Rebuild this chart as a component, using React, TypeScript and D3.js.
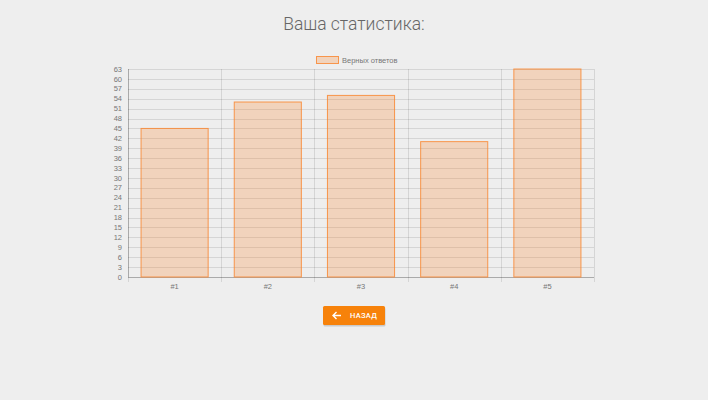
import React, { useRef, useEffect } from 'react'
import * as d3 from 'd3'

const categories = ['#1', '#2', '#3', '#4', '#5']
const correctAnswers = [45, 53, 55, 41, 63]
const yMax = 63
const yStep = 3
const legendLabel = 'Верных ответов'
const title = 'Ваша статистика:'
const buttonLabel = 'НАЗАД'

const App: React.FC = () => {
  const svgRef = useRef<SVGSVGElement>(null)

  useEffect(() => {
    if (!svgRef.current) return
    const width = 708
    const height = 400
    const margin = { top: 69, right: 114, bottom: 123, left: 128 }
    const innerWidth = width - margin.left - margin.right
    const innerHeight = height - margin.top - margin.bottom

    const svg = d3.select(svgRef.current)
    svg.selectAll('*').remove()
    svg.attr('width', width).attr('height', height)

    svg.append('rect').attr('width', width).attr('height', height).attr('fill', '#eeeeee')

    // Title
    svg
      .append('text')
      .attr('x', width / 2)
      .attr('y', 30)
      .attr('text-anchor', 'middle')
      .style('font-family', 'Roboto, sans-serif')
      .style('font-weight', '300')
      .style('font-size', '17.5px')
      .style('fill', '#666')
      .text(title)

    const g = svg.append('g').attr('transform', `translate(${margin.left}, ${margin.top})`)

    const xScale = d3.scaleBand().domain(categories).range([0, innerWidth])
    const yScale = d3.scaleLinear().domain([0, yMax]).range([innerHeight, 0])
    const yTicks = d3.range(0, yMax + 1, yStep)

    const gridColor = 'rgba(0,0,0,0.1)'
    const font = '"Liberation Sans", Arial, sans-serif'

    // Horizontal grid
    g.selectAll('.hgrid')
      .data(yTicks)
      .enter()
      .append('line')
      .attr('x1', 0)
      .attr('x2', innerWidth)
      .attr('y1', d => Math.round(yScale(d)) + 0.5)
      .attr('y2', d => Math.round(yScale(d)) + 0.5)
      .attr('stroke', gridColor)

    // Vertical grid (category boundaries)
    const bounds = categories.map(c => xScale(c) || 0).concat([innerWidth])
    g.selectAll('.vgrid')
      .data(bounds)
      .enter()
      .append('line')
      .attr('x1', d => Math.round(d) + 0.5)
      .attr('x2', d => Math.round(d) + 0.5)
      .attr('y1', 0)
      .attr('y2', innerHeight + 5)
      .attr('stroke', gridColor)

    // Axis lines
    g.append('line')
      .attr('x1', 0.5)
      .attr('x2', 0.5)
      .attr('y1', 0)
      .attr('y2', innerHeight)
      .attr('stroke', 'rgba(0,0,0,0.2)')
    g.append('line')
      .attr('x1', 0)
      .attr('x2', innerWidth)
      .attr('y1', innerHeight + 0.5)
      .attr('y2', innerHeight + 0.5)
      .attr('stroke', 'rgba(0,0,0,0.2)')

    // Y tick labels
    g.selectAll('.ylabel')
      .data(yTicks)
      .enter()
      .append('text')
      .attr('x', -6)
      .attr('y', d => yScale(d))
      .attr('dy', '0.35em')
      .attr('text-anchor', 'end')
      .style('font-family', font)
      .style('font-size', '7.5px')
      .style('fill', '#777')
      .text(d => String(d))

    // X tick labels
    g.selectAll('.xlabel')
      .data(categories)
      .enter()
      .append('text')
      .attr('x', d => (xScale(d) || 0) + xScale.bandwidth() / 2)
      .attr('y', innerHeight + 12)
      .attr('text-anchor', 'middle')
      .style('font-family', font)
      .style('font-size', '7.5px')
      .style('fill', '#777')
      .text(d => d)

    // Bars
    const barWidth = xScale.bandwidth() * 0.72
    g.selectAll('.bar')
      .data(correctAnswers)
      .enter()
      .append('rect')
      .attr('x', (_d, i) => (xScale(categories[i]) || 0) + (xScale.bandwidth() - barWidth) / 2)
      .attr('y', d => yScale(d))
      .attr('width', barWidth)
      .attr('height', d => innerHeight - yScale(d))
      .attr('fill', 'rgba(250,130,40,0.25)')
      .attr('stroke', 'rgba(250,130,40,0.8)')
      .attr('stroke-width', 1)

    // Legend
    const legend = svg.append('g').attr('transform', `translate(316, 56)`)
    legend
      .append('rect')
      .attr('x', 0.5)
      .attr('y', 0.5)
      .attr('width', 22)
      .attr('height', 7)
      .attr('fill', 'rgba(250,130,40,0.25)')
      .attr('stroke', 'rgba(250,130,40,0.8)')
    legend
      .append('text')
      .attr('x', 26)
      .attr('y', 4)
      .attr('dy', '0.35em')
      .style('font-family', font)
      .style('font-size', '7.5px')
      .style('fill', '#777')
      .text(legendLabel)

    // Back button
    const btn = svg.append('g').attr('transform', 'translate(323, 306)')
    btn
      .append('rect')
      .attr('x', 0.5)
      .attr('y', 1.5)
      .attr('width', 62)
      .attr('height', 19)
      .attr('rx', 1.5)
      .attr('fill', 'rgba(0,0,0,0.15)')
    btn
      .append('rect')
      .attr('width', 62)
      .attr('height', 19)
      .attr('rx', 1.5)
      .attr('fill', '#f7820a')
    btn
      .append('path')
      .attr('d', 'M10,9.5 L18,9.5 M13.5,6 L10,9.5 L13.5,13')
      .attr('fill', 'none')
      .attr('stroke', '#fff')
      .attr('stroke-width', 1.4)
    btn
      .append('text')
      .attr('x', 27)
      .attr('y', 9.5)
      .attr('dy', '0.35em')
      .style('font-family', 'Roboto, sans-serif')
      .style('font-weight', '500')
      .style('font-size', '7.5px')
      .style('letter-spacing', '0.3px')
      .style('fill', '#fff')
      .text(buttonLabel)
  }, [])

  return (
    <div style={{ position: 'absolute', left: 0, top: 0 }}>
      <svg ref={svgRef} style={{ display: 'block' }} />
    </div>
  )
}

export default App
